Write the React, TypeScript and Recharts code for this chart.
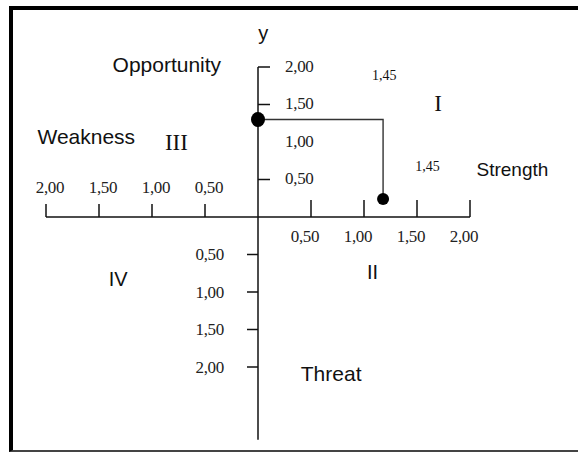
import { ScatterChart, Scatter, XAxis, YAxis, ReferenceLine } from 'recharts'

// tick values along each half-axis (labels show absolute values with a comma)
const xTicksLeft = [-2, -1.5, -1, -0.5]
const xTicksRight = [0.5, 1, 1.5, 2]
const yTicksUp = [0.5, 1, 1.5, 2]
const yTickMarksUp = [0.5, 1.5, 2]
const yTicksDown = [-0.5, -1, -1.5, -2]

// the two plotted positions (as drawn)
const opportunityPoint = { x: 0, y: 1.3 }
const strengthPoint = { x: 1.18, y: 0.24 }

// text annotations in data units
const annotations = [
  { text: 'y', x: 0.05, y: 2.45, font: 'sans', size: 20 },
  { text: 'Opportunity', x: -0.86, y: 2.03, font: 'sans', size: 21 },
  { text: 'Weakness', x: -1.62, y: 1.07, font: 'sans', size: 21 },
  { text: 'III', x: -0.77, y: 0.99, font: 'serif', size: 23 },
  { text: 'I', x: 1.7, y: 1.52, font: 'serif', size: 23 },
  { text: 'Strength', x: 2.4, y: 0.63, font: 'sans', size: 19 },
  { text: '1,45', x: 1.19, y: 1.89, font: 'serif', size: 14 },
  { text: '1,45', x: 1.6, y: 0.67, font: 'serif', size: 14 },
  { text: 'II', x: 1.08, y: -0.73, font: 'sans', size: 20 },
  { text: 'IV', x: -1.32, y: -0.83, font: 'sans', size: 20 },
  { text: 'Threat', x: 0.69, y: -2.08, font: 'sans', size: 21 },
]

const W = 578
const H = 452
const ORIGIN_X = 258
const ORIGIN_Y = 217
const X_UNIT = 106
const Y_UNIT = 75
const X_DOMAIN = [-ORIGIN_X / X_UNIT, (W - ORIGIN_X) / X_UNIT]
const Y_DOMAIN = [-(H - ORIGIN_Y) / Y_UNIT, ORIGIN_Y / Y_UNIT]

const SERIF = "'Liberation Serif', 'Times New Roman', serif"
const SANS = "'Liberation Sans', Arial, sans-serif"
const fmt = (v: number) => Math.abs(v).toFixed(2).replace('.', ',')

const leftTickData = xTicksLeft.map((v) => ({ x: v, y: 0 }))
const rightTickData = xTicksRight.map((v) => ({ x: v, y: 0 }))
const upTickData = yTicksUp.map((v) => ({ x: 0, y: v, mark: yTickMarksUp.includes(v) }))
const downTickData = yTicksDown.map((v) => ({ x: 0, y: v }))
const connector = [
  { x: opportunityPoint.x, y: opportunityPoint.y },
  { x: strengthPoint.x, y: opportunityPoint.y },
  { x: strengthPoint.x, y: strengthPoint.y },
]

const tickText = { fontFamily: SERIF, fontSize: 17, fill: '#222', letterSpacing: -0.3 }

export default function App() {
  return (
    <div style={{ position: 'absolute', left: 0, top: 0, width: W, height: H, overflow: 'hidden', background: '#fff' }}>
      <div
        style={{
          position: 'absolute',
          left: 9,
          top: 6,
          width: 640,
          height: H - 6,
          boxSizing: 'border-box',
          borderTop: '4px solid #000',
          borderLeft: '4px solid #000',
          borderBottom: '2px solid #444',
        }}
      />
      <div style={{ position: 'absolute', left: 0, top: 0 }}>
        <ScatterChart width={W} height={H} margin={{ top: 0, right: 0, bottom: 0, left: 0 }}>
          <XAxis type="number" dataKey="x" domain={X_DOMAIN} allowDataOverflow hide />
          <YAxis type="number" dataKey="y" domain={Y_DOMAIN} allowDataOverflow hide />
          <ReferenceLine segment={[{ x: -2, y: 0 }, { x: 2, y: 0 }]} stroke="#111" strokeWidth={1.5} />
          <ReferenceLine segment={[{ x: 0, y: 2 }, { x: 0, y: -2.97 }]} stroke="#111" strokeWidth={1.5} />
          <Scatter
            data={leftTickData}
            isAnimationActive={false}
            shape={(p: any) => (
              <g>
                <line x1={p.cx} x2={p.cx} y1={p.cy} y2={p.cy - 13} stroke="#111" strokeWidth={1.5} />
                <text x={p.cx + 4} y={p.cy - 30} textAnchor="middle" dominantBaseline="central" style={tickText}>
                  {fmt(p.payload.x)}
                </text>
              </g>
            )}
          />
          <Scatter
            data={rightTickData}
            isAnimationActive={false}
            shape={(p: any) => (
              <g>
                <line x1={p.cx} x2={p.cx} y1={p.cy} y2={p.cy - 17} stroke="#111" strokeWidth={1.5} />
                <text x={p.cx - 6} y={p.cy + 19} textAnchor="middle" dominantBaseline="central" style={tickText}>
                  {fmt(p.payload.x)}
                </text>
              </g>
            )}
          />
          <Scatter
            data={upTickData}
            isAnimationActive={false}
            shape={(p: any) => (
              <g>
                {p.payload.mark && (
                  <line x1={p.cx} x2={p.cx + 12} y1={p.cy} y2={p.cy} stroke="#111" strokeWidth={1.5} />
                )}
                <text x={p.cx + 27} y={p.cy - 1} textAnchor="start" dominantBaseline="central" style={tickText}>
                  {fmt(p.payload.y)}
                </text>
              </g>
            )}
          />
          <Scatter
            data={downTickData}
            isAnimationActive={false}
            shape={(p: any) => (
              <g>
                <line x1={p.cx - 11} x2={p.cx} y1={p.cy} y2={p.cy} stroke="#111" strokeWidth={1.5} />
                <text x={p.cx - 34} y={p.cy} textAnchor="end" dominantBaseline="central" style={tickText}>
                  {fmt(p.payload.y)}
                </text>
              </g>
            )}
          />
          <Scatter
            data={connector}
            isAnimationActive={false}
            line={{ stroke: '#333', strokeWidth: 1.4 }}
            shape={() => <g />}
          />
          <Scatter
            data={[opportunityPoint]}
            isAnimationActive={false}
            shape={(p: any) => <ellipse cx={p.cx} cy={p.cy} rx={7} ry={7.5} fill="#000" />}
          />
          <Scatter
            data={[strengthPoint]}
            isAnimationActive={false}
            shape={(p: any) => <circle cx={p.cx} cy={p.cy} r={6} fill="#000" />}
          />
          <Scatter
            data={annotations}
            isAnimationActive={false}
            shape={(p: any) => (
              <text
                x={p.cx}
                y={p.cy}
                textAnchor="middle"
                dominantBaseline="central"
                style={{
                  fontFamily: p.payload.font === 'serif' ? SERIF : SANS,
                  fontSize: p.payload.size,
                  fill: '#111',
                }}
              >
                {p.payload.text}
              </text>
            )}
          />
        </ScatterChart>
      </div>
    </div>
  )
}
